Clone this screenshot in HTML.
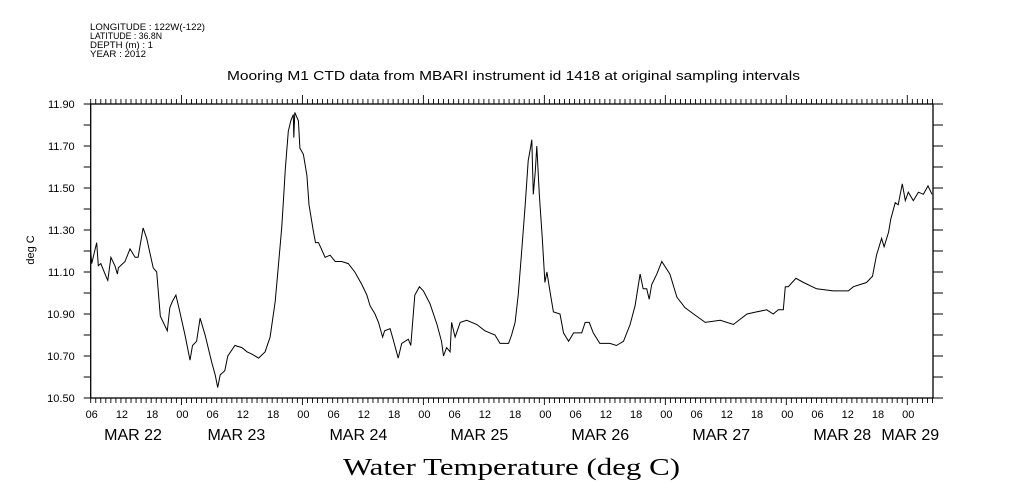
<!DOCTYPE html>
<html><head><meta charset="utf-8"><style>
body{margin:0;background:#fff;}
svg{display:block;font-family:"Liberation Sans",sans-serif;}
</style></head><body>
<svg id="chart" width="1009" height="504" viewBox="0 0 1009 504">
<rect width="1009" height="504" fill="#fff"/>
<g font-size="9.5" fill="#000">
<text x="90" y="30" textLength="115" lengthAdjust="spacingAndGlyphs">LONGITUDE : 122W(-122)</text>
<text x="90" y="39" textLength="72" lengthAdjust="spacingAndGlyphs">LATITUDE : 36.8N</text>
<text x="90" y="48" textLength="63" lengthAdjust="spacingAndGlyphs">DEPTH (m) : 1</text>
<text x="90" y="57" textLength="56" lengthAdjust="spacingAndGlyphs">YEAR : 2012</text>
</g>
<text x="227" y="80" font-size="13" textLength="573" lengthAdjust="spacingAndGlyphs">Mooring M1 CTD data from MBARI instrument id 1418 at original sampling intervals</text>
<text transform="translate(34,250) rotate(-90)" font-size="11" text-anchor="middle">deg C</text>
<text x="343" y="475" font-size="24" textLength="337" lengthAdjust="spacingAndGlyphs" font-family="Liberation Serif, serif">Water Temperature (deg C)</text>
<g id="axes"></g>
<path id="line" fill="none" stroke="#000" stroke-width="1"/>
</svg>
<script>
const hours=[0,0.2,1.2,1.5,2.0,3.2,3.4,4.0,4.8,5.3,5.5,6.8,7.8,8.8,9.4,10.4,11.1,12.4,13.1,13.8,14.4,15.2,15.7,16.2,16.9,17.5,18.7,19.7,20.2,21.0,21.7,22.7,24.0,24.7,25.2,25.7,26.6,27.2,28.6,30.0,31.0,31.9,33.3,34.6,35.6,36.6,37.2,37.9,38.2,38.6,39.2,39.7,40.2,40.3,40.5,41.2,41.5,42.2,42.9,43.3,44.2,44.6,45.2,46.5,47.5,48.5,49.8,51.1,52.4,53.8,54.8,55.4,56.4,57.1,57.9,58.3,59.4,60.0,61.0,61.7,63.0,63.5,64.3,65.2,66.0,67.3,68.7,69.6,70.0,70.6,71.3,71.6,72.3,73.3,74.6,76.6,78.2,80.2,81.2,82.9,83.5,84.2,84.8,85.5,86.2,86.8,87.3,87.5,87.8,88.2,88.5,89.0,89.6,90.1,90.5,91.1,91.8,93.1,93.8,94.8,95.8,97.4,98.1,98.9,99.7,101.0,103.0,104.3,105.7,107.0,108.0,109.0,109.6,110.3,110.8,111.3,112.3,113.3,114.9,116.3,117.9,119.6,121.9,124.9,127.5,130.2,132.1,134.1,135.4,136.4,137.4,137.8,138.4,139.9,141.4,144.0,147.3,150.3,151.3,152.6,153.9,155.1,155.9,156.9,157.4,158.3,158.7,159.6,160.2,160.6,161.0,161.6,162.2,163.2,164.2,165.2,166.1,166.9];
const temps=[11.20,11.14,11.24,11.13,11.14,11.07,11.06,11.17,11.13,11.09,11.12,11.15,11.21,11.17,11.17,11.31,11.26,11.12,11.10,10.89,10.86,10.82,10.93,10.96,10.99,10.93,10.80,10.68,10.75,10.77,10.88,10.80,10.67,10.61,10.55,10.61,10.63,10.70,10.75,10.74,10.72,10.71,10.69,10.72,10.79,10.96,11.12,11.31,11.43,11.59,11.77,11.82,11.85,11.74,11.86,11.82,11.69,11.66,11.56,11.42,11.29,11.24,11.24,11.17,11.18,11.15,11.15,11.14,11.10,11.04,10.99,10.94,10.90,10.86,10.79,10.82,10.83,10.78,10.69,10.76,10.78,10.75,10.99,11.03,11.01,10.95,10.85,10.77,10.70,10.74,10.72,10.86,10.79,10.86,10.87,10.85,10.82,10.80,10.76,10.76,10.80,10.86,10.99,11.20,11.42,11.63,11.70,11.73,11.47,11.58,11.70,11.47,11.26,11.05,11.10,11.01,10.91,10.90,10.81,10.77,10.81,10.81,10.86,10.86,10.81,10.76,10.76,10.75,10.77,10.85,10.94,11.09,11.02,11.02,10.97,11.04,11.09,11.15,11.09,10.98,10.93,10.90,10.86,10.87,10.85,10.90,10.91,10.92,10.90,10.92,10.92,11.03,11.03,11.07,11.05,11.02,11.01,11.01,11.03,11.04,11.05,11.08,11.18,11.26,11.22,11.29,11.35,11.43,11.42,11.47,11.52,11.44,11.48,11.44,11.48,11.47,11.51,11.47];
const yTicks=[10.50,10.70,10.90,11.10,11.30,11.50,11.70,11.90];
const hourLabels=["06","12","18","00"];
const dateLabels=["MAR 22","MAR 23","MAR 24","MAR 25","MAR 26","MAR 27","MAR 28","MAR 29"];
const dateLabelHours=[8.4,28.9,53.1,77.1,101.1,125.1,149.1,162.6];

const X0=90.7,X1=933,Y0=398,Y1=104,HMAX=167.1,TMIN=10.5,TMAX=11.9;
const sx=h=>X0+h*(X1-X0)/HMAX;
const sy=t=>Y0-(t-TMIN)*(Y0-Y1)/(TMAX-TMIN);
const NS="http://www.w3.org/2000/svg";
const g=document.getElementById('axes');
function mk(tag,attrs,parent){const e=document.createElementNS(NS,tag);for(const k in attrs)e.setAttribute(k,attrs[k]);(parent||g).appendChild(e);return e;}
const frame=mk('rect',{x:X0,y:Y1,width:X1-X0,height:Y0-Y1,fill:'none',stroke:'#000','stroke-width':1.3});


for(let i=0;i<=14;i++){const t=TMIN+i*0.1,y=sy(t);
 const tk=mk('line',{x1:X0-7,x2:X0,y1:y,y2:y,stroke:'#000'});
 
 
 const tr=mk('line',{x1:X1,x2:X1+10,y1:y,y2:y,stroke:'#000'});
 
 }
yTicks.forEach(t=>{const e=mk('text',{x:X0-16,y:sy(t)+4,'font-size':11,'text-anchor':'end'});e.textContent=t.toFixed(2);
 
 });
for(let h=0;h<=HMAX;h++){const x=sx(h),isDay=(h+6)%24===0,is6=h%6===0;
 const bt=mk('line',{x1:x,x2:x,y1:Y0,y2:Y0+(isDay?7:5),stroke:'#000','stroke-width':0.9});
 
 
 const tt=mk('line',{x1:x,x2:x,y1:Y1,y2:Y1-(isDay?9:5),stroke:'#000','stroke-width':0.9});
 
 
 if(is6){const e=mk('text',{x:x+1,y:418,'font-size':11,'text-anchor':'middle'});e.textContent=hourLabels[(h/6)%4];
  
  }}
dateLabels.forEach((d,i)=>{const e=mk('text',{x:sx(dateLabelHours[i]),y:440,'font-size':16,'text-anchor':'middle'});e.textContent=d;
 
 });
document.getElementById('line').setAttribute('d',hours.map((h,i)=>(i?'L':'M')+sx(h).toFixed(1)+','+sy(temps[i]).toFixed(1)).join(''));
</script>
</body></html>
